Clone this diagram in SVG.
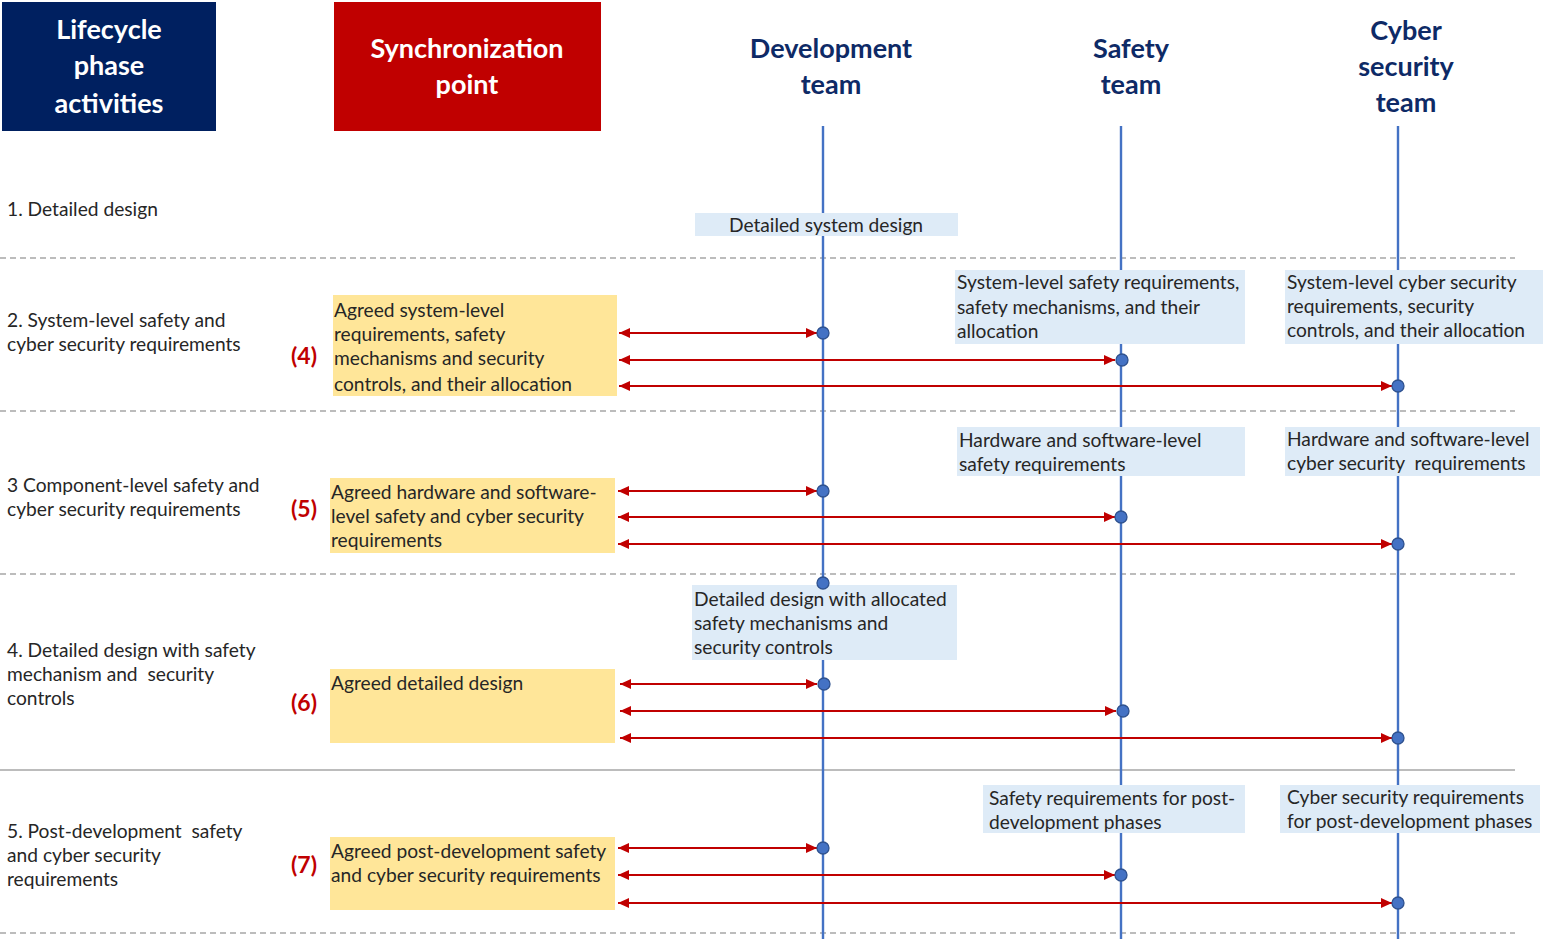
<svg xmlns="http://www.w3.org/2000/svg" width="1545" height="939" viewBox="0 0 1545 939">
<defs>
<style>
text{font-family:Lato,"Open Sans","Liberation Sans",sans-serif;}
.hdr{font-size:27px;font-weight:bold;text-anchor:middle;}
.hw{fill:#ffffff;}
.team{fill:#0e2a66;}
.t{font-size:19.2px;fill:#262626;white-space:pre;}
.num{font-size:23px;font-weight:bold;fill:#c00000;}
.sep{stroke:#a6a6a6;stroke-width:1.3;stroke-dasharray:6 4;fill:none;}
.sepsolid{stroke:#a6a6a6;stroke-width:1.3;fill:none;}
.life{stroke:#4472c4;stroke-width:2.4;fill:none;}
.yel{fill:#ffe699;}
.blu{fill:#deebf7;}
.arr{stroke:#c00000;stroke-width:2.2;fill:none;marker-start:url(#ah);marker-end:url(#ah);}
.dot{fill:#4472c4;stroke:#2f528f;stroke-width:1.3;}
</style>
<marker id="ah" markerUnits="userSpaceOnUse" markerWidth="12" markerHeight="10" refX="11" refY="5" orient="auto-start-reverse">
<path d="M0,0 L11,5 L0,10 z" fill="#c00000"/>
</marker>
</defs>
<rect width="1545" height="939" fill="#ffffff"/>

<g id="separators">
<line class="sep" x1="0" y1="258" x2="1515" y2="258"/>
<line class="sep" x1="0" y1="411" x2="1515" y2="411"/>
<line class="sep" x1="0" y1="574" x2="1515" y2="574"/>
<line class="sepsolid" x1="0" y1="770" x2="1515" y2="770"/>
<line class="sep" x1="0" y1="933" x2="1515" y2="933"/>
</g>

<g id="header-lifecycle">
<rect x="2" y="2" width="214" height="129" fill="#002060"/>
<text class="hdr hw" x="109" y="39">Lifecycle</text>
<text class="hdr hw" x="109" y="75">phase</text>
<text class="hdr hw" x="109" y="113">activities</text>
</g>
<g id="header-sync">
<rect x="334" y="2" width="267" height="129" fill="#c00000"/>
<text class="hdr hw" x="467" y="58">Synchronization</text>
<text class="hdr hw" x="467" y="94">point</text>
</g>
<g id="header-dev">
<text class="hdr team" x="831" y="58">Development</text>
<text class="hdr team" x="831" y="94">team</text>
</g>
<g id="header-safety">
<text class="hdr team" x="1131" y="58">Safety</text>
<text class="hdr team" x="1131" y="94">team</text>
</g>
<g id="header-cyber">
<text class="hdr team" x="1406" y="40">Cyber</text>
<text class="hdr team" x="1406" y="76">security</text>
<text class="hdr team" x="1406" y="112">team</text>
</g>

<g id="lifelines">
<line class="life" x1="823" y1="126" x2="823" y2="939"/>
<line class="life" x1="1121" y1="126" x2="1121" y2="939"/>
<line class="life" x1="1398" y1="126" x2="1398" y2="939"/>
</g>

<g id="phase1">
<text class="t" x="7" y="216">1. Detailed design</text>
</g>
<g id="dev-detailed-system-design">
<rect class="blu" x="695" y="213" width="263" height="23"/>
<text class="t" x="826" y="232" text-anchor="middle">Detailed system design</text>
</g>

<g id="phase2">
<text class="t" x="7" y="327">2. System-level safety and</text>
<text class="t" x="7" y="351">cyber security requirements</text>
</g>
<g id="sync4">
<text class="num" x="291" y="364">(4)</text>
<rect class="yel" x="333" y="295" width="284" height="101"/>
<text class="t" x="334" y="317">Agreed system-level</text>
<text class="t" x="334" y="341">requirements, safety</text>
<text class="t" x="334" y="365">mechanisms and security</text>
<text class="t" x="334" y="391">controls, and their allocation</text>
</g>
<g id="safety-system-level">
<rect class="blu" x="955" y="270" width="290" height="74"/>
<text class="t" x="957" y="289">System-level safety requirements,</text>
<text class="t" x="957" y="314">safety mechanisms, and their</text>
<text class="t" x="957" y="338">allocation</text>
</g>
<g id="cyber-system-level">
<rect class="blu" x="1285" y="270" width="258" height="74"/>
<text class="t" x="1287" y="289">System-level cyber security</text>
<text class="t" x="1287" y="313">requirements, security</text>
<text class="t" x="1287" y="337">controls, and their allocation</text>
</g>

<g id="phase3">
<text class="t" x="7" y="492">3 Component-level safety and</text>
<text class="t" x="7" y="516">cyber security requirements</text>
</g>
<g id="sync5">
<text class="num" x="291" y="517">(5)</text>
<rect class="yel" x="330" y="478" width="285" height="75"/>
<text class="t" x="331" y="499">Agreed hardware and software-</text>
<text class="t" x="331" y="523">level safety and cyber security</text>
<text class="t" x="331" y="547">requirements</text>
</g>
<g id="safety-hw-sw">
<rect class="blu" x="957" y="427" width="288" height="49"/>
<text class="t" x="959" y="447">Hardware and software-level</text>
<text class="t" x="959" y="471">safety requirements</text>
</g>
<g id="cyber-hw-sw">
<rect class="blu" x="1285" y="427" width="255" height="49"/>
<text class="t" x="1287" y="446">Hardware and software-level</text>
<text class="t" x="1287" y="470">cyber security  requirements</text>
</g>

<g id="phase4">
<text class="t" x="7" y="657">4. Detailed design with safety</text>
<text class="t" x="7" y="681">mechanism and  security</text>
<text class="t" x="7" y="705">controls</text>
</g>
<g id="dev-detailed-design-allocated">
<rect class="blu" x="692" y="585" width="265" height="75"/>
<text class="t" x="694" y="606">Detailed design with allocated</text>
<text class="t" x="694" y="630">safety mechanisms and</text>
<text class="t" x="694" y="654">security controls</text>
</g>
<g id="sync6">
<text class="num" x="291" y="711">(6)</text>
<rect class="yel" x="330" y="669" width="285" height="74"/>
<text class="t" x="331" y="690">Agreed detailed design</text>
</g>

<g id="phase5">
<text class="t" x="7" y="838">5. Post-development  safety</text>
<text class="t" x="7" y="862">and cyber security</text>
<text class="t" x="7" y="886">requirements</text>
</g>
<g id="sync7">
<text class="num" x="291" y="873">(7)</text>
<rect class="yel" x="330" y="837" width="285" height="73"/>
<text class="t" x="331" y="858">Agreed post-development safety</text>
<text class="t" x="331" y="882">and cyber security requirements</text>
</g>
<g id="safety-post-dev">
<rect class="blu" x="983" y="785" width="262" height="48"/>
<text class="t" x="989" y="805">Safety requirements for post-</text>
<text class="t" x="989" y="829">development phases</text>
</g>
<g id="cyber-post-dev">
<rect class="blu" x="1280" y="785" width="260" height="48"/>
<text class="t" x="1287" y="804">Cyber security requirements</text>
<text class="t" x="1287" y="828">for post-development phases</text>
</g>

<g id="connectors">
<line class="arr" x1="619" y1="333" x2="817" y2="333"/>
<line class="arr" x1="619" y1="360" x2="1115" y2="360"/>
<line class="arr" x1="619" y1="386" x2="1392" y2="386"/>
<line class="arr" x1="618" y1="491" x2="817" y2="491"/>
<line class="arr" x1="618" y1="517" x2="1115" y2="517"/>
<line class="arr" x1="618" y1="544" x2="1392" y2="544"/>
<line class="arr" x1="620" y1="684" x2="817" y2="684"/>
<line class="arr" x1="620" y1="711" x2="1116" y2="711"/>
<line class="arr" x1="620" y1="738" x2="1392" y2="738"/>
<line class="arr" x1="618" y1="848" x2="817" y2="848"/>
<line class="arr" x1="618" y1="875" x2="1115" y2="875"/>
<line class="arr" x1="618" y1="903" x2="1392" y2="903"/>
</g>

<g id="sync-dots">
<circle class="dot" cx="823" cy="333" r="6"/>
<circle class="dot" cx="1122" cy="360" r="6"/>
<circle class="dot" cx="1398" cy="386" r="6"/>
<circle class="dot" cx="823" cy="491" r="6"/>
<circle class="dot" cx="1121" cy="517" r="6"/>
<circle class="dot" cx="1398" cy="544" r="6"/>
<circle class="dot" cx="823" cy="583" r="6"/>
<circle class="dot" cx="824" cy="684" r="6"/>
<circle class="dot" cx="1123" cy="711" r="6"/>
<circle class="dot" cx="1398" cy="738" r="6"/>
<circle class="dot" cx="823" cy="848" r="6"/>
<circle class="dot" cx="1121" cy="875" r="6"/>
<circle class="dot" cx="1398" cy="903" r="6"/>
</g>
</svg>
